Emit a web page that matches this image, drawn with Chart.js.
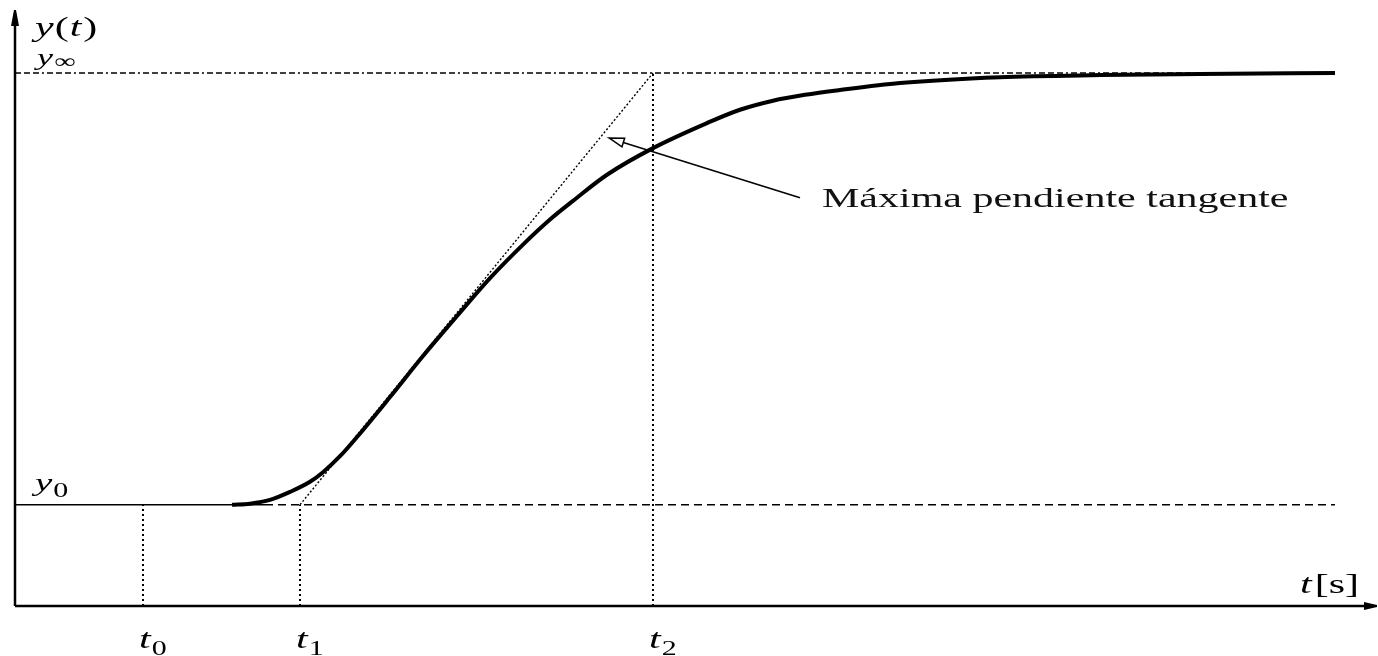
<!DOCTYPE html>
<html>
<head>
<meta charset="utf-8">
<script src="https://cdn.jsdelivr.net/npm/chart.js@4.4.0/dist/chart.umd.min.js"></script>
<style>
  html, body { margin: 0; padding: 0; background: #fff; }
</style>
</head>
<body>
<canvas id="stepChart" width="1378" height="656"></canvas>
<script>
// Respuesta al escalón (unidades arbitrarias de tiempo y de salida)
const respT = [2.17, 2.35, 2.55, 2.75, 2.95, 3.08, 3.25, 3.42, 3.75, 4.08, 4.42, 4.75, 5.08, 5.35,
               5.58, 5.92, 6.38, 6.92, 7.25, 7.58, 7.9, 8.25, 8.85, 9.85, 10.85, 11.85, 13.2];
const respY = [0.19, 0.192, 0.199, 0.214, 0.233, 0.251, 0.281, 0.317, 0.392, 0.469, 0.544, 0.615,
               0.678, 0.725, 0.760, 0.809, 0.859, 0.906, 0.931, 0.948, 0.959, 0.968, 0.981, 0.992,
               0.996, 0.998, 1.0];

const Y0 = 0.19;     // valor inicial
const YINF = 1.0;    // valor final
const T_END = 13.2;  // fin de las líneas horizontales

// instantes marcados en el eje t
const tMarks = [1.28, 2.85, 6.38];
const tSubs = ['0', '1', '2'];
// hasta dónde sube cada línea vertical punteada
const tMarkTops = [Y0, Y0, YINF];

// flecha de la anotación: [t, y] de la cola y de la punta
const noteTail = [7.85, 0.766];
const noteTip = [5.94, 0.878];
const noteText = 'Máxima pendiente tangente';

const SERIF = '"Liberation Serif", "DejaVu Serif", serif';
const STRETCH = 1.5;  // el texto va ensanchado horizontalmente

function seg(t1, y1, t2, y2) {
  return [{ x: t1, y: y1 }, { x: t2, y: y2 }];
}

function lineDs(data, width, dash) {
  return {
    data: data,
    borderColor: '#000',
    borderWidth: width,
    borderDash: dash || [],
    pointRadius: 0,
    fill: false,
    clip: false,
    tension: 0
  };
}

const datasets = [
  {
    data: respT.map((t, i) => ({ x: t, y: respY[i] })),
    borderColor: '#000',
    borderWidth: 4,
    pointRadius: 0,
    fill: false,
    clip: false,
    cubicInterpolationMode: 'monotone'
  },
  lineDs(seg(0, Y0, 2.5, Y0), 1.6),
  lineDs(seg(2.5, Y0, T_END, Y0), 1.6, [8, 5]),
  lineDs(seg(0, YINF, T_END, YINF), 1.4, [6, 3, 6, 3, 6, 3, 2, 3]),
  lineDs(seg(tMarks[1], Y0, tMarks[2], YINF), 1.4, [2, 2])
];
tMarks.forEach((t, i) => datasets.push(lineDs(seg(t, 0, t, tMarkTops[i]), 2, [2, 3])));

// texto ensanchado; devuelve el ancho ocupado
function txt(ctx, str, x, y, font) {
  ctx.font = font;
  const w = ctx.measureText(str).width * STRETCH;
  ctx.save();
  ctx.translate(x, y);
  ctx.scale(STRETCH, 1);
  ctx.fillText(str, 0, 0);
  ctx.restore();
  return w;
}

// "base" en cursiva con subíndice recto
function symbol(ctx, base, sub, x, y, size, subSize, subDrop) {
  const w = txt(ctx, base, x, y, 'italic ' + size + 'px ' + SERIF);
  if (sub) txt(ctx, sub, x + w + 1, y + subDrop, subSize + 'px ' + SERIF);
}

const drawingPlugin = {
  id: 'stepDecor',
  afterDraw(chart) {
    const ctx = chart.ctx;
    const { left, right, top, bottom } = chart.chartArea;
    const xs = chart.scales.x, ys = chart.scales.y;
    ctx.save();
    ctx.fillStyle = '#000';
    ctx.strokeStyle = '#000';

    // ejes
    ctx.lineWidth = 2.5;
    ctx.beginPath();
    ctx.moveTo(left, bottom);
    ctx.lineTo(left, top + 4);
    ctx.moveTo(left, bottom);
    ctx.lineTo(right - 6, bottom);
    ctx.stroke();
    ctx.beginPath();
    ctx.moveTo(left - 4, top + 17);
    ctx.lineTo(left + 4, top + 17);
    ctx.lineTo(left + 1, top + 1);
    ctx.lineTo(left - 1, top + 1);
    ctx.closePath();
    ctx.fill();
    ctx.beginPath();
    ctx.moveTo(right - 11, bottom - 4);
    ctx.lineTo(right - 11, bottom + 4);
    ctx.lineTo(right + 2, bottom + 1);
    ctx.lineTo(right + 2, bottom - 1);
    ctx.closePath();
    ctx.fill();

    ctx.textBaseline = 'alphabetic';
    ctx.textAlign = 'left';
    const it28 = 'italic 28px ' + SERIF, up28 = '28px ' + SERIF;

    // etiquetas del eje y
    let x = left + 20;
    x += txt(ctx, 'y', x, 36, it28) + 1;
    x += txt(ctx, '(', x, 36, up28) + 1;
    x += txt(ctx, 't', x, 36, it28) + 2;
    txt(ctx, ')', x, 36, up28);

    symbol(ctx, 'y', '∞', left + 22, ys.getPixelForValue(YINF) - 8, 24, 20, 3);
    symbol(ctx, 'y', '0', left + 20, ys.getPixelForValue(Y0) - 14, 26, 20, 6);

    // etiquetas del eje t
    tMarks.forEach((t, i) => {
      symbol(ctx, 't', tSubs[i], xs.getPixelForValue(t) - 4, bottom + 42, 28, 20, 7);
    });
    let tx = right - 75;
    tx += txt(ctx, 't', tx, bottom - 13, it28) + 3;
    txt(ctx, '[s]', tx, bottom - 13, up28);

    // anotación con flecha abierta
    const ax = xs.getPixelForValue(noteTail[0]), ay = ys.getPixelForValue(noteTail[1]);
    const bx = xs.getPixelForValue(noteTip[0]), by = ys.getPixelForValue(noteTip[1]);
    const ang = Math.atan2(by - ay, bx - ax);
    const hl = 15, hw = 4.5;
    const baseX = bx - hl * Math.cos(ang), baseY = by - hl * Math.sin(ang);
    ctx.lineWidth = 1.5;
    ctx.beginPath();
    ctx.moveTo(ax, ay);
    ctx.lineTo(baseX, baseY);
    ctx.stroke();
    ctx.beginPath();
    ctx.moveTo(bx, by);
    ctx.lineTo(baseX + hw * Math.sin(ang), baseY - hw * Math.cos(ang));
    ctx.lineTo(baseX - hw * Math.sin(ang), baseY + hw * Math.cos(ang));
    ctx.closePath();
    ctx.fillStyle = '#fff';
    ctx.fill();
    ctx.stroke();

    ctx.fillStyle = '#111';
    txt(ctx, noteText, ax + 22, ay + 9, up28);
    ctx.restore();
  }
};

new Chart(document.getElementById('stepChart'), {
  type: 'line',
  data: { datasets: datasets },
  options: {
    responsive: false,
    animation: false,
    layout: { autoPadding: false, padding: { left: 15, right: 3, top: 9, bottom: 50 } },
    plugins: { legend: { display: false }, tooltip: { enabled: false } },
    scales: {
      x: { type: 'linear', min: 0, max: 13.6, display: false },
      y: { type: 'linear', min: 0, max: 1.12, display: false }
    }
  },
  plugins: [drawingPlugin]
});
</script>
</body>
</html>
